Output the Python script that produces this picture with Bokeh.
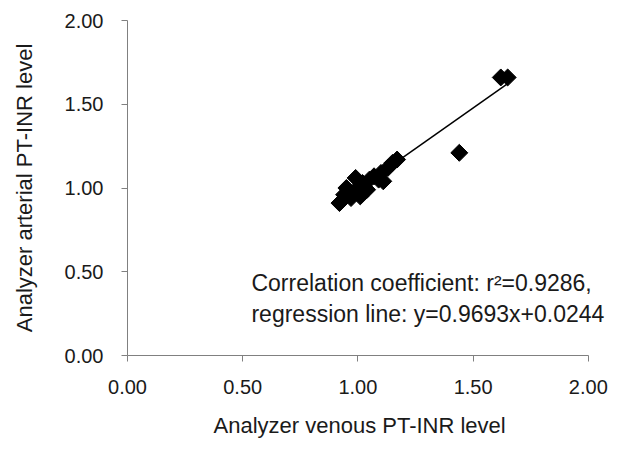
from bokeh.plotting import figure
from bokeh.models import FixedTicker, NumeralTickFormatter, Label, Range1d, Title
from bokeh.embed import file_html
from bokeh.resources import INLINE
import math

venous = [0.92, 0.94, 0.95, 0.97, 0.98, 0.99, 1.00, 1.01, 1.02, 1.04, 1.05,
          1.07, 1.09, 1.10, 1.11, 1.13, 1.15, 1.17, 1.44, 1.62, 1.65]
arterial = [0.91, 0.96, 1.00, 0.94, 0.97, 1.06, 1.00, 0.95, 1.03, 0.99, 1.05,
            1.07, 1.05, 1.09, 1.04, 1.12, 1.15, 1.17, 1.21, 1.66, 1.66]
slope = 0.9693
intercept = 0.0244
ticks = [0, 0.5, 1.0, 1.5, 2.0]

FONT = "Liberation Sans"
p = figure(width=633, height=454, output_backend="svg", toolbar_location=None,
           x_range=Range1d(0, 2.17), y_range=Range1d(0, 2),
           min_border_left=127, min_border_right=6, min_border_top=20, min_border_bottom=99)
p.outline_line_color = None
p.xgrid.visible = False
p.ygrid.visible = False

for ax in (p.xaxis, p.yaxis):
    ax.ticker = FixedTicker(ticks=ticks)
    ax.formatter = NumeralTickFormatter(format="0.00")
    ax.axis_line_color = "#808080"
    ax.major_tick_line_color = "#808080"
    ax.minor_tick_line_color = None
    ax.major_tick_in = 0
    ax.major_tick_out = 6
    ax.major_label_text_font = FONT
    ax.major_label_text_font_size = "20px"
    ax.major_label_text_color = "#1a1a1a"
    ax.axis_label_text_font = FONT
    ax.axis_label_text_font_size = "22px"
    ax.axis_label_text_font_style = "normal"
    ax.axis_label_text_color = "#1a1a1a"

p.xaxis.bounds = (0, 2)
p.yaxis.axis_label = "Analyzer arterial PT-INR level"
p.xaxis.major_label_standoff = 18
p.yaxis.major_label_standoff = 18
p.yaxis.axis_label_standoff = 25

xtitle = Title(text="Analyzer venous PT-INR level", align="left", offset=86,
               text_font=FONT, text_font_size="22px", text_font_style="normal",
               text_color="#1a1a1a", standoff=28)
p.add_layout(xtitle, "below")

x0, x1 = min(venous), max(venous)
p.line([x0, x1], [slope * x0 + intercept, slope * x1 + intercept], line_color="black", line_width=1.5)
p.scatter(venous, arterial, marker="square", size=12, angle=math.pi / 4,
          fill_color="black", line_color="black")

lab1 = Label(x=0.538, y=0.43, text="Correlation coefficient: r\u00b2=0.9286,",
             text_font=FONT, text_font_size="23px", text_baseline="middle", text_color="#1a1a1a")
lab2 = Label(x=0.538, y=0.25, text="regression line: y=0.9693x+0.0244",
             text_font=FONT, text_font_size="23px", text_baseline="middle", text_color="#1a1a1a")
p.add_layout(lab1)
p.add_layout(lab2)

open("out.html", "w").write(file_html(p, INLINE))
